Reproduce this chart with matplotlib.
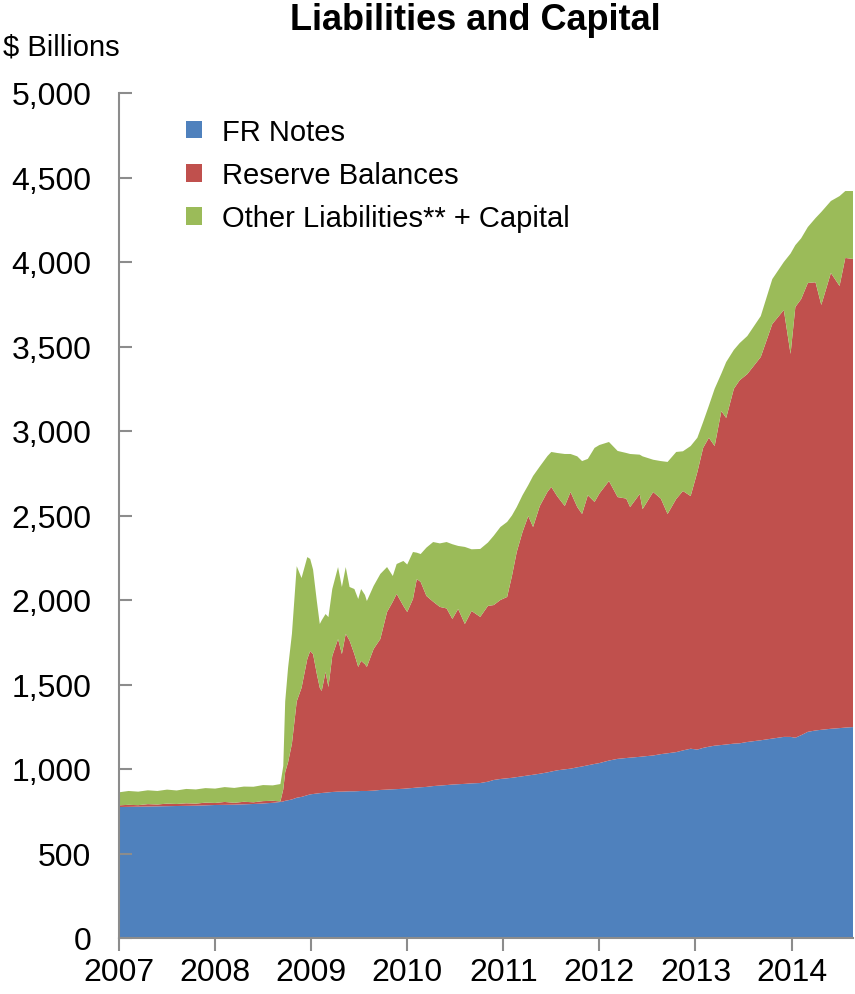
import numpy as np
import matplotlib
matplotlib.use("Agg")
import matplotlib.pyplot as plt

plt.rcParams["font.family"] = ["Liberation Sans", "DejaVu Sans"]

# ----------------------------
# data ($ billions)
# ----------------------------
years = [
    2007.00, 2007.10, 2007.20, 2007.30, 2007.40, 2007.50, 2007.60, 2007.70, 2007.80, 2007.90,
    2008.00, 2008.10, 2008.20, 2008.30, 2008.40, 2008.50, 2008.60, 2008.68,
    2008.71, 2008.73, 2008.76, 2008.80, 2008.85, 2008.90, 2008.96, 2008.99,
    2009.02, 2009.06, 2009.09, 2009.11, 2009.15, 2009.18, 2009.22, 2009.28, 2009.32, 2009.36,
    2009.40, 2009.45, 2009.49, 2009.52, 2009.56, 2009.58, 2009.65, 2009.72, 2009.79, 2009.85,
    2009.89, 2009.96, 2010.00, 2010.06, 2010.10, 2010.14, 2010.20, 2010.27, 2010.34, 2010.41,
    2010.47, 2010.53, 2010.60, 2010.67, 2010.76, 2010.84, 2010.90, 2010.97,
    2011.04, 2011.09, 2011.14, 2011.20, 2011.26, 2011.31, 2011.38, 2011.46, 2011.50, 2011.56,
    2011.64, 2011.70, 2011.77, 2011.82, 2011.88, 2011.95,
    2012.00, 2012.10, 2012.19, 2012.28, 2012.32, 2012.42, 2012.45, 2012.56, 2012.64, 2012.71,
    2012.80, 2012.87, 2012.95,
    2013.02, 2013.08, 2013.14, 2013.20, 2013.27, 2013.32, 2013.40, 2013.46, 2013.54, 2013.68,
    2013.80, 2013.92, 2013.99,
    2014.04, 2014.10, 2014.17, 2014.25, 2014.31, 2014.41, 2014.50, 2014.56, 2014.64,
]

fr_notes = [
    775, 776, 777, 778, 779, 780, 781, 782, 783, 785,
    787, 788, 789, 791, 793, 796, 800, 805,
    808, 812, 815, 820, 830, 835, 845, 850,
    852, 855, 857, 858, 860, 862, 864, 866, 866, 867,
    868, 868, 869, 870, 870, 870, 872, 876, 878, 880,
    881, 883, 885, 888, 890, 892, 894, 899, 902, 905,
    908, 910, 912, 915, 917, 925, 935, 941,
    945, 948, 952, 957, 962, 966, 972, 980, 985, 992,
    998, 1002, 1010, 1015, 1022, 1030,
    1035, 1050, 1060, 1065, 1067, 1072, 1074, 1080, 1088, 1093,
    1100, 1110, 1120,
    1115, 1125, 1132, 1138, 1142, 1145, 1150, 1152, 1160, 1170,
    1180, 1190, 1190,
    1185, 1200, 1220, 1228, 1232, 1238, 1242, 1245, 1248,
]

reserves = [
    10, 12, 9, 14, 11, 15, 12, 15, 12, 16,
    12, 17, 11, 15, 10, 14, 12, 3,
    72, 170, 225, 330, 570, 645, 806, 848,
    828, 705, 623, 604, 714, 623, 805, 903, 814, 933,
    892, 812, 735, 770, 750, 734, 838, 893, 1051, 1110,
    1155, 1082, 1044, 1118, 1234, 1215, 1130, 1091, 1057, 1045,
    980, 1037, 946, 1020, 983, 1040, 1035, 1059,
    1073, 1194, 1332, 1445, 1535, 1466, 1584, 1660, 1684, 1623,
    1558, 1637, 1540, 1494, 1598, 1550,
    1595, 1654, 1549, 1535, 1483, 1555, 1464, 1559, 1512, 1416,
    1498, 1535, 1495,
    1642, 1775, 1828, 1773, 1976, 1932, 2100, 2148, 2177, 2268,
    2453, 2526, 2266,
    2549, 2580, 2656, 2652, 2514, 2697, 2616, 2779, 2770,
]

other = [
    77, 82, 80, 82, 80, 83, 80, 85, 84, 86,
    85, 88, 88, 90, 92, 95, 91, 103,
    138, 418, 560, 650, 800, 650, 603, 545,
    500, 430, 378, 418, 343, 414, 396, 426, 397, 395,
    317, 385, 402, 425, 410, 390, 373, 385, 266, 152,
    177, 266, 281, 278, 156, 165, 286, 353, 376, 393,
    442, 373, 456, 365, 402, 375, 410, 432,
    444, 358, 266, 218, 183, 302, 234, 212, 207, 255,
    308, 225, 300, 313, 215, 320,
    287, 231, 273, 270, 314, 233, 312, 191, 222, 308,
    278, 235, 296,
    203, 153, 190, 339, 222, 331, 230, 220, 225, 242,
    266, 284, 594,
    366, 360, 331, 380, 550, 426, 532, 396, 402,
]

labels = ["FR Notes", "Reserve Balances", "Other Liabilities** + Capital"]
colors = ["#4F81BD", "#C0504D", "#9BBB59"]
year_ticks = [2007, 2008, 2009, 2010, 2011, 2012, 2013, 2014]
y_ticks = [0, 500, 1000, 1500, 2000, 2500, 3000, 3500, 4000, 4500, 5000]

# ----------------------------
# plot
# ----------------------------
fig = plt.figure(figsize=(8.55, 9.95), dpi=100)
ax = fig.add_axes([119 / 855, 1 - 939 / 995, (853 - 119) / 855, (939 - 94) / 995])

ax.stackplot(years, fr_notes, reserves, other, colors=colors, labels=labels,
             linewidth=0)

ax.set_xlim(2007, years[-1])
ax.set_ylim(0, 5000)

ax.set_xticks(year_ticks)
ax.set_xticklabels([str(y) for y in year_ticks])
ax.set_yticks(y_ticks)
ax.set_yticklabels([f"{v:,}" for v in y_ticks])

for s in ["top", "right"]:
    ax.spines[s].set_visible(False)
for s in ["left", "bottom"]:
    ax.spines[s].set_color("#8c8c8c")
    ax.spines[s].set_linewidth(1.5)

ax.tick_params(axis="y", direction="in", length=9, width=1.5, color="#8c8c8c",
               labelsize=23, pad=20)
ax.tick_params(axis="x", direction="out", length=9, width=1.5, color="#8c8c8c",
               labelsize=23, pad=5)

leg = ax.legend(loc="upper left", bbox_to_anchor=(186 / 855, 1 - 119 / 995),
                bbox_transform=fig.transFigure, frameon=False, fontsize=21,
                handlelength=0.55, handleheight=0.55, handletextpad=0.7,
                labelspacing=0.52, borderpad=0, borderaxespad=0)

fig.text(475 / 855, 1 - 20 / 995, "Liabilities and Capital", ha="center",
         va="center", fontsize=26, fontweight="bold")
fig.text(3 / 855, 1 - 48 / 995, "$ Billions", ha="left", va="center", fontsize=21)

fig.savefig("out.png", dpi=100)
plt.close(fig)
